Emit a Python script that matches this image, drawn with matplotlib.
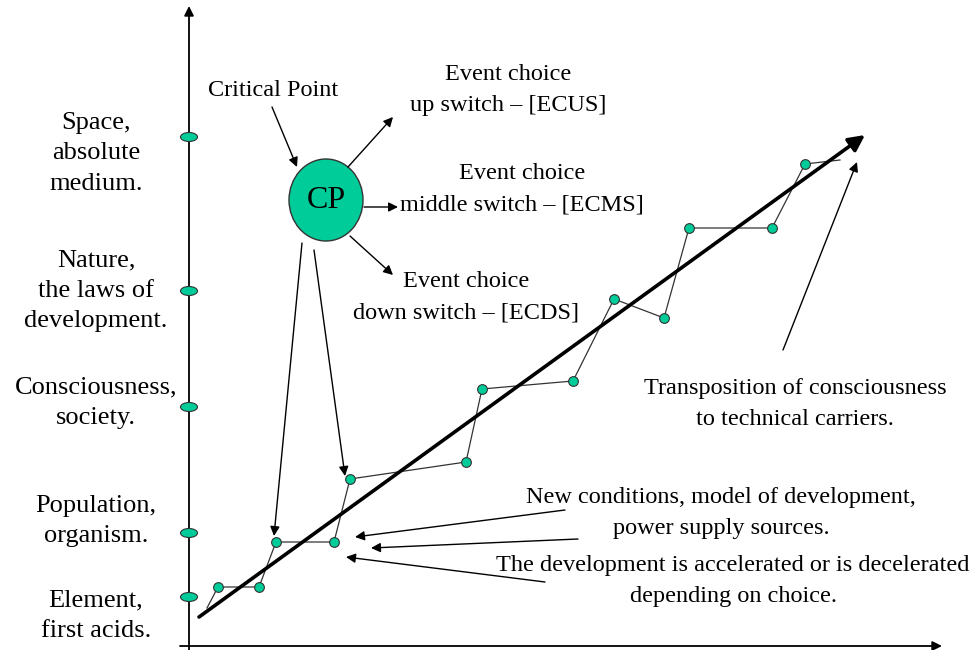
import matplotlib.pyplot as plt
from matplotlib.patches import Ellipse

plt.rcParams['font.family'] = ['Liberation Serif', 'DejaVu Serif']

# levels on the vertical axis (pixel y) and their labels
level_y = [137, 291, 407, 533, 597]
level_labels = ["Space,\nabsolute\nmedium.", "Nature,\nthe laws of\ndevelopment.",
                "Consciousness,\nsociety.", "Population,\norganism.", "Element,\nfirst acids."]
label_y = [153, 291, 403, 521, 616]

# zigzag path of development (pixel coords)
path_x = [207, 218, 259, 276, 334, 350, 466, 482, 573, 614, 664, 689, 772, 805, 840]
path_y = [608, 587, 587, 542, 542, 479, 462, 389, 381, 299, 318, 228, 228, 164, 160]
dot_x = path_x[1:-1]
dot_y = path_y[1:-1]

# main trend arrow
trend_start = (199, 617)
trend_end = (865, 135)

green = '#00CC99'
fs = 17.5
ls = 1.63

fig = plt.figure(figsize=(9.77, 6.5), dpi=100)
ax = fig.add_axes([0, 0, 1, 1])
ax.set_xlim(0, 977)
ax.set_ylim(650, 0)
ax.axis('off')

def arrow(x0, y0, x1, y1, lw=1.0, ms=14):
    ax.annotate('', xy=(x1, y1), xytext=(x0, y0),
                arrowprops=dict(arrowstyle='-|>', color='black', lw=lw,
                                mutation_scale=ms, shrinkA=0, shrinkB=0))

# axes of the diagram
arrow(189, 650, 189, 6, lw=1.3)
arrow(180, 646, 942, 646, lw=1.3)

for y in level_y:
    ax.add_patch(Ellipse((189, y), 17, 9, facecolor=green, edgecolor='#333333', lw=0.8, zorder=3))
for y, t in zip(label_y, level_labels):
    ax.text(96, y, t, ha='center', va='center', fontsize=19, linespacing=1.5)

# zigzag
ax.plot(path_x, path_y, color='#333333', lw=0.9, zorder=2)
ax.plot(dot_x, dot_y, 'o', color=green, markersize=7, markeredgecolor='#333333',
        markeredgewidth=0.8, zorder=4)

# trend arrow
arrow(trend_start[0], trend_start[1], trend_end[0], trend_end[1], lw=2.6, ms=24)

# critical point
ax.add_patch(Ellipse((326, 200), 74, 82, facecolor=green, edgecolor='#333333', lw=1, zorder=3))
ax.text(326, 201, 'CP', ha='center', va='center', fontsize=23, zorder=4)
ax.text(273, 90, 'Critical Point', ha='center', va='center', fontsize=fs)
arrow(272, 107, 297, 167)
arrow(348, 167, 393, 117)
arrow(364, 207, 398, 207)
arrow(350, 236, 393, 275)
ax.text(508, 90, 'Event choice\nup switch \u2013 [ECUS]', ha='center', va='center',
        fontsize=fs, linespacing=ls)
ax.text(522, 189, 'Event choice\nmiddle switch \u2013 [ECMS]', ha='center', va='center',
        fontsize=fs, linespacing=ls)
ax.text(466, 297, 'Event choice\ndown switch \u2013 [ECDS]', ha='center', va='center',
        fontsize=fs, linespacing=ls)

# lines from CP down to the path
arrow(302, 243, 274, 536)
arrow(314, 250, 345, 476)

# right side annotations
arrow(565, 510, 355, 537)
arrow(578, 539, 371, 548)
arrow(545, 582, 346, 557)
ax.text(721, 513, 'New conditions, model of development,\npower supply sources.',
        ha='center', va='center', fontsize=fs, linespacing=ls)
ax.text(733, 581, 'The development is accelerated or is decelerated\ndepending on choice.',
        ha='center', va='center', fontsize=fs, linespacing=ls)

arrow(783, 350, 857, 162)
ax.text(795, 404, 'Transposition of consciousness\nto technical carriers.',
        ha='center', va='center', fontsize=fs, linespacing=ls)

fig.savefig('out.png', dpi=100)
